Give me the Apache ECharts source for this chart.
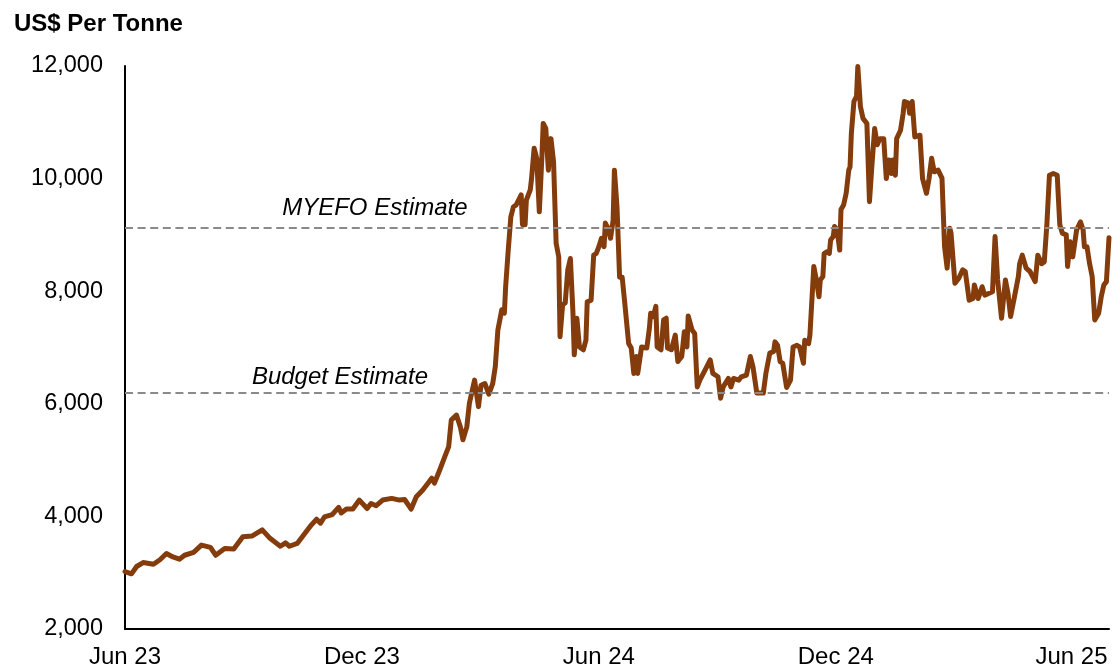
<!DOCTYPE html>
<html>
<head>
<meta charset="utf-8">
<script src="https://cdn.jsdelivr.net/npm/echarts@6/dist/echarts.min.js"></script>
<style>
html,body{margin:0;padding:0;background:#fff;}
#chart{width:1112px;height:669px;}
</style>
</head>
<body>
<div id="chart"></div>
<script>
// ---- Data (US$ per tonne) ----
const dates = [
'2023-06-01','2023-06-06','2023-06-10','2023-06-15','2023-06-23','2023-06-28',
'2023-07-03','2023-07-08','2023-07-13','2023-07-17','2023-07-24','2023-07-30',
'2023-08-06','2023-08-10','2023-08-17','2023-08-24','2023-08-31',
'2023-09-07','2023-09-15','2023-09-21','2023-09-29',
'2023-10-03','2023-10-06','2023-10-12','2023-10-18','2023-10-23','2023-10-27','2023-10-30',
'2023-11-02','2023-11-08','2023-11-13','2023-11-15','2023-11-19','2023-11-24','2023-11-29',
'2023-12-05','2023-12-08','2023-12-12','2023-12-17','2023-12-24','2023-12-30',
'2024-01-03','2024-01-08','2024-01-12','2024-01-17','2024-01-21','2024-01-24','2024-01-26','2024-01-30',
'2024-02-03','2024-02-06','2024-02-08','2024-02-12','2024-02-15','2024-02-17','2024-02-20','2024-02-22','2024-02-26','2024-02-29',
'2024-03-02','2024-03-05','2024-03-08','2024-03-11','2024-03-13','2024-03-15','2024-03-18','2024-03-20','2024-03-21','2024-03-23','2024-03-25','2024-03-27','2024-03-29',
'2024-04-02','2024-04-03','2024-04-05','2024-04-06','2024-04-09','2024-04-10','2024-04-12','2024-04-14','2024-04-16','2024-04-18','2024-04-19','2024-04-21','2024-04-23','2024-04-25','2024-04-27','2024-04-29',
'2024-05-01','2024-05-02','2024-05-04','2024-05-06','2024-05-08','2024-05-10','2024-05-12','2024-05-13','2024-05-15','2024-05-17','2024-05-20','2024-05-22','2024-05-23','2024-05-26','2024-05-28','2024-05-30',
'2024-06-01','2024-06-03','2024-06-05','2024-06-06','2024-06-08','2024-06-10','2024-06-12','2024-06-13','2024-06-15','2024-06-17','2024-06-19','2024-06-21','2024-06-24','2024-06-26','2024-06-28','2024-06-30',
'2024-07-01','2024-07-04','2024-07-08','2024-07-10','2024-07-11','2024-07-13','2024-07-15','2024-07-16','2024-07-19','2024-07-21','2024-07-23','2024-07-24','2024-07-27','2024-07-30',
'2024-08-01','2024-08-04','2024-08-06','2024-08-08','2024-08-09','2024-08-12','2024-08-14','2024-08-16','2024-08-18','2024-08-22','2024-08-26','2024-08-28',
'2024-09-01','2024-09-03','2024-09-05','2024-09-09','2024-09-11','2024-09-13','2024-09-17','2024-09-19','2024-09-23','2024-09-26','2024-09-28',
'2024-10-01','2024-10-03','2024-10-06','2024-10-08','2024-10-11','2024-10-14','2024-10-15','2024-10-17','2024-10-19','2024-10-21','2024-10-24','2024-10-27','2024-10-29',
'2024-11-01','2024-11-03','2024-11-06','2024-11-07','2024-11-10','2024-11-11','2024-11-14','2024-11-16','2024-11-18','2024-11-19','2024-11-21','2024-11-22','2024-11-24','2024-11-26','2024-11-27','2024-11-29','2024-11-30',
'2024-12-02','2024-12-04','2024-12-05','2024-12-07','2024-12-09','2024-12-11','2024-12-12','2024-12-13','2024-12-15','2024-12-17','2024-12-18','2024-12-20','2024-12-22','2024-12-25','2024-12-27','2024-12-29','2024-12-31',
'2025-01-02','2025-01-04','2025-01-07','2025-01-09','2025-01-11','2025-01-13','2025-01-14','2025-01-16','2025-01-17','2025-01-20','2025-01-22','2025-01-23','2025-01-26','2025-01-27','2025-01-29','2025-01-31',
'2025-02-04','2025-02-06','2025-02-09','2025-02-11','2025-02-13','2025-02-15','2025-02-18','2025-02-21','2025-02-23','2025-02-25','2025-02-27','2025-02-28',
'2025-03-03','2025-03-06','2025-03-09','2025-03-11','2025-03-14','2025-03-17','2025-03-18','2025-03-21','2025-03-24','2025-03-26','2025-03-29',
'2025-04-01','2025-04-03','2025-04-05','2025-04-08','2025-04-11','2025-04-13','2025-04-15','2025-04-18','2025-04-21','2025-04-22','2025-04-24','2025-04-27','2025-04-30',
'2025-05-04','2025-05-06','2025-05-09','2025-05-11','2025-05-13','2025-05-15','2025-05-18','2025-05-21','2025-05-23','2025-05-25','2025-05-28','2025-05-29','2025-05-31',
'2025-06-02','2025-06-05','2025-06-08','2025-06-10','2025-06-11','2025-06-13','2025-06-15','2025-06-17','2025-06-19','2025-06-22','2025-06-24','2025-06-26','2025-06-28','2025-06-30'
];

const prices = [
3020,2980,3110,3180,3150,3230,
3340,3280,3240,3310,3360,3490,
3450,3310,3430,3420,3640,
3650,3760,3610,3470,
3530,3470,3520,3700,3850,3950,3880,
3990,4030,4160,4060,4130,4130,4290,
4140,4230,4190,4290,4320,4290,
4300,4130,4350,4470,4590,4680,4590,4820,
5060,5240,5710,5800,5590,5360,5590,6010,6420,5950,
6330,6360,6170,6360,6660,7310,7670,7610,8080,8730,9320,9500,9530,
9710,9180,9180,9620,9800,10000,10540,10360,9410,10390,10980,10890,10150,10710,10300,8850,
8610,7190,7760,7790,8380,8580,7610,6870,7520,7010,6960,7130,7810,7840,8640,8670,
8790,8940,8790,9210,9120,8940,9260,10150,9500,8250,8250,7790,7070,6990,6540,6840,
6540,7010,6990,7340,7610,7550,7730,7010,6960,7490,7520,6990,6960,7220,
6750,6840,7280,7010,7560,7310,7250,6300,6420,6600,6780,6540,
6480,6100,6300,6450,6300,6450,6420,6480,6510,6840,6660,
6190,6190,6190,6540,6900,6930,7100,7040,6750,6720,6290,6420,7010,
7040,7010,6720,7130,7070,7220,8440,8200,7900,8200,8260,8670,8700,8670,8910,8970,9150,
9090,8730,9450,9530,9740,10150,10210,10800,11370,11460,11990,11280,11070,10980,9590,10270,10890,
10600,10710,10710,10000,10330,10090,10330,10060,10710,10860,11160,11370,11340,11160,11370,10740,
10770,10000,9740,10000,10360,10120,10150,10010,8790,8410,9120,9030,
8140,8230,8380,8350,7840,7870,8110,7870,8080,7930,7960,
7990,8970,8200,7520,8200,7960,7550,7900,8260,8490,8640,8410,8350,
8170,8640,8490,8520,9180,10060,10090,10060,9180,9030,9000,8440,8880,
8610,9090,9230,9090,8790,8790,8490,8260,7490,7610,7900,8110,8170,8950
];

const estimateNames = ['MYEFO Estimate', 'Budget Estimate'];
const estimateValues = [9130, 6190];
const estimateLabelDates = ['2023-12-11', '2023-11-14'];

const xTickDates = ['2023-06-01','2023-12-01','2024-06-01','2024-12-01','2025-06-01'];
const xTickLabels = ['Jun 23','Dec 23','Jun 24','Dec 24','Jun 25'];

const yMin = 2000, yMax = 12000, yStep = 2000;
const xStart = '2023-06-01', xEnd = '2025-06-30';

// ---- Chart ----
const FONT = "'Liberation Sans', Arial, Helvetica, sans-serif";
const parse = s => echarts.number.parseDate(s).getTime();
const tickTimes = xTickDates.map(parse);
const labelByTime = {};
tickTimes.forEach((t, i) => { labelByTime[t] = xTickLabels[i]; });

const seriesData = dates.map((d, i) => [parse(d), prices[i]]);

const chart = echarts.init(document.getElementById('chart'), null, {renderer: 'canvas'});

const option = {
  animation: false,
  backgroundColor: '#ffffff',
  title: {
    text: 'US$ Per Tonne',
    left: 9,
    top: 7,
    textStyle: {fontFamily: FONT, fontSize: 24, fontWeight: 'bold', color: '#000'}
  },
  grid: {left: 125, right: 3, top: 66, bottom: 40, containLabel: false},
  xAxis: {
    type: 'value',
    min: parse(xStart),
    max: parse(xEnd),
    axisLine: {show: true, onZero: false, lineStyle: {color: '#000', width: 2}},
    axisTick: {show: false},
    splitLine: {show: false},
    axisLabel: {
      customValues: tickTimes,
      formatter: v => labelByTime[v] !== undefined ? labelByTime[v] : '',
      fontFamily: FONT, fontSize: 24, color: '#000', margin: 16,
      showMinLabel: true, showMaxLabel: true, hideOverlap: false
    }
  },
  yAxis: {
    type: 'value',
    min: yMin, max: yMax, interval: yStep,
    axisLine: {show: true, lineStyle: {color: '#000', width: 2}},
    axisTick: {show: false},
    splitLine: {show: false},
    axisLabel: {
      fontFamily: FONT, fontSize: 23.5, color: '#000', margin: 22,
      formatter: v => v.toLocaleString('en-US')
    }
  },
  series: [{
    type: 'line',
    data: seriesData,
    showSymbol: false,
    symbol: 'none',
    clip: false,
    lineStyle: {color: '#843C0C', width: 5, join: 'round', cap: 'round'},
    markLine: {
      silent: true,
      symbol: 'none',
      label: {show: false},
      lineStyle: {color: '#8a8a8a', width: 2, type: [8, 4.6]},
      data: estimateValues.map(v => ({yAxis: v}))
    },
    z: 3
  }]
};
chart.setOption(option);

// annotation labels anchored to the estimate lines (data coordinates)
const gaps = [7, 4];
const graphics = estimateNames.map((name, i) => {
  const p = chart.convertToPixel({gridIndex: 0}, [parse(estimateLabelDates[i]), estimateValues[i]]);
  return {
    type: 'text',
    x: p[0], y: p[1] - gaps[i],
    style: {
      text: name, fill: '#000',
      font: 'italic 24px ' + FONT,
      align: 'center', verticalAlign: 'bottom'
    },
    z: 10
  };
});
chart.setOption({graphic: graphics});
</script>
</body>
</html>
